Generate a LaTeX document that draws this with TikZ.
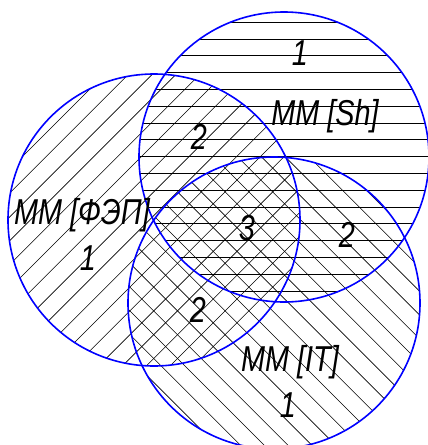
\documentclass[tikz,border=0pt]{standalone}
\usepackage{fontspec}
\setmainfont{Liberation Sans}[FakeStretch=0.8]
\begin{document}
\begin{tikzpicture}[x=1pt,y=-1pt]
        \tikzstyle{hatch}=[line width=0.6pt, black]
        \tikzstyle{rim}=[draw=blue, line width=1.6pt]
        \tikzstyle{lbl}=[font=\fontsize{36}{36}\selectfont\itshape, inner sep=0pt]

        \useasboundingbox (0,0) rectangle (428,445);

        \coordinate (Sh) at (284,157);
        \coordinate (FEP) at (154,220);
        \coordinate (IT) at (274,303);

        % horizontal hatching
        \begin{scope}
            \clip (Sh) circle (145pt);
            \foreach \i in {0,...,18} \draw[hatch] (130,{22+16.8*\i}) -- (440,{22+16.8*\i});
        \end{scope}

        % hatching "/"
        \begin{scope}
            \clip (FEP) circle (146pt);
            \foreach \i in {0,...,27} \draw[hatch] ({60+23.8*\i},0) -- ++(-460,460);
        \end{scope}

        % hatching "\"
        \begin{scope}
            \clip (IT) circle (146pt);
            \foreach \i in {0,...,27} \draw[hatch] ({-300+23.8*\i},0) -- ++(460,460);
        \end{scope}

        \draw[rim] (Sh) circle (145pt);
        \draw[rim] (FEP) circle (146pt);
        \draw[rim] (IT) circle (146pt);

        \node[lbl] (sh1) at (300,53) {1};
        \node[lbl] (shname) at (325,116) {MM [Sh]};
        \node[lbl] (shfep) at (199,137) {2};
        \node[lbl] (fepname) at (82,215) {MM [ФЭП]};
        \node[lbl] (fep1) at (88,258) {1};
        \node[lbl] (all3) at (247,228) {3};
        \node[lbl] (shit) at (347,235) {2};
        \node[lbl] (fepit) at (198,310) {2};
        \node[lbl] (itname) at (290,362) {MM [IT]};
        \node[lbl] (it1) at (288,405) {1};
    \end{tikzpicture}
\end{document}
